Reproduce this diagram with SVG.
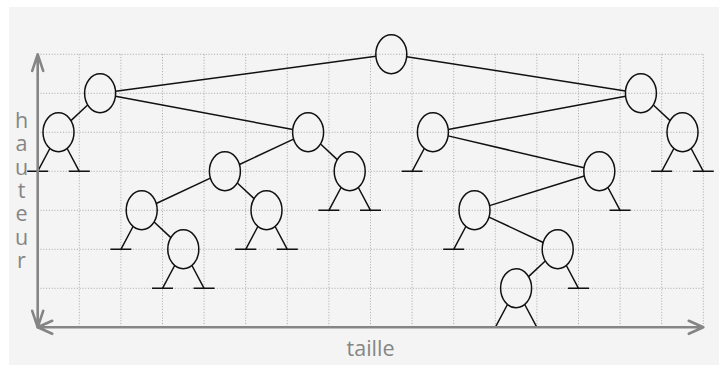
<svg xmlns="http://www.w3.org/2000/svg" xmlns:xlink="http://www.w3.org/1999/xlink" width="719" height="365" viewBox="0 0 719 365">
<style>
.grid{stroke:#a0a0a0;stroke-width:0.9;stroke-dasharray:1 1.8;fill:none}
.axis{stroke:#858585;stroke-width:2.6;fill:none;stroke-linecap:round;stroke-linejoin:round}
.edge{stroke:#111;stroke-width:1.5;fill:none}
.lbl{font-family:"Open Sans","Liberation Sans",sans-serif;font-size:21.5px;fill:#858585;text-anchor:middle}
</style>
<defs>
<path id="nl" class="edge" d="M -8.64 16.19 L -20.8 39 M -31.3 39 H -10.3"/>
<path id="nr" class="edge" d="M 8.64 16.19 L 20.8 39 M 10.3 39 H 31.3"/>
<ellipse id="el" cx="0" cy="0" rx="15.5" ry="19.5" fill="none" stroke="#111" stroke-width="1.5"/>
</defs>
<rect x="9" y="7" width="710" height="358" fill="#f4f4f4"/>
<g id="grid" class="grid">
<path d="M37.7 54.3H703.3M37.7 93.3H703.3M37.7 132.3H703.3M37.7 171.3H703.3M37.7 210.3H703.3M37.7 249.3H703.3M37.7 288.3H703.3"/>
<path d="M79.3 54.3V327.3M120.9 54.3V327.3M162.5 54.3V327.3M204.1 54.3V327.3M245.7 54.3V327.3M287.3 54.3V327.3M328.9 54.3V327.3M370.5 54.3V327.3M412.1 54.3V327.3M453.7 54.3V327.3M495.3 54.3V327.3M536.9 54.3V327.3M578.5 54.3V327.3M620.1 54.3V327.3M661.7 54.3V327.3M703.3 54.3V327.3"/>
</g>
<g id="connectors" class="edge">
<line x1="375.89" y1="56.36" x2="115.51" y2="91.24"/>
<line x1="406.68" y1="56.70" x2="625.52" y2="90.90"/>
<line x1="87.67" y1="104.95" x2="70.93" y2="120.65"/>
<line x1="115.43" y1="96.17" x2="292.77" y2="129.43"/>
<line x1="293.57" y1="139.11" x2="239.43" y2="164.49"/>
<line x1="320.53" y1="143.95" x2="337.27" y2="159.65"/>
<line x1="210.37" y1="178.11" x2="156.23" y2="203.49"/>
<line x1="237.33" y1="182.95" x2="254.07" y2="198.65"/>
<line x1="154.13" y1="221.95" x2="170.87" y2="237.65"/>
<line x1="625.57" y1="96.17" x2="448.23" y2="129.43"/>
<line x1="653.33" y1="104.95" x2="670.07" y2="120.65"/>
<line x1="448.14" y1="135.87" x2="584.06" y2="167.73"/>
<line x1="584.26" y1="176.00" x2="489.54" y2="205.60"/>
<line x1="489.03" y1="217.11" x2="543.17" y2="242.49"/>
<line x1="545.27" y1="260.95" x2="528.53" y2="276.65"/>
</g>
<g id="root" class="node" transform="translate(391.3 54.3)"><use xlink:href="#el"/></g>
<g id="n-l1" class="node" transform="translate(100.1 93.3)"><use xlink:href="#el"/></g>
<g id="n-r1" class="node" transform="translate(640.9 93.3)"><use xlink:href="#el"/></g>
<g id="n-a" class="node" transform="translate(58.5 132.3)"><use xlink:href="#el"/><use xlink:href="#nl"/><use xlink:href="#nr"/></g>
<g id="n-b" class="node" transform="translate(308.1 132.3)"><use xlink:href="#el"/></g>
<g id="n-c" class="node" transform="translate(432.9 132.3)"><use xlink:href="#el"/><use xlink:href="#nl"/></g>
<g id="n-d" class="node" transform="translate(682.5 132.3)"><use xlink:href="#el"/><use xlink:href="#nl"/><use xlink:href="#nr"/></g>
<g id="n-e" class="node" transform="translate(224.9 171.3)"><use xlink:href="#el"/></g>
<g id="n-f" class="node" transform="translate(349.7 171.3)"><use xlink:href="#el"/><use xlink:href="#nl"/><use xlink:href="#nr"/></g>
<g id="n-g" class="node" transform="translate(599.3 171.3)"><use xlink:href="#el"/><use xlink:href="#nr"/></g>
<g id="n-h" class="node" transform="translate(141.7 210.3)"><use xlink:href="#el"/><use xlink:href="#nl"/></g>
<g id="n-i" class="node" transform="translate(266.5 210.3)"><use xlink:href="#el"/><use xlink:href="#nl"/><use xlink:href="#nr"/></g>
<g id="n-j" class="node" transform="translate(474.5 210.3)"><use xlink:href="#el"/><use xlink:href="#nl"/></g>
<g id="n-k" class="node" transform="translate(183.3 249.3)"><use xlink:href="#el"/><use xlink:href="#nl"/><use xlink:href="#nr"/></g>
<g id="n-l" class="node" transform="translate(557.7 249.3)"><use xlink:href="#el"/><use xlink:href="#nr"/></g>
<g id="n-m" class="node" transform="translate(516.1 288.3)"><use xlink:href="#el"/><use xlink:href="#nl"/><use xlink:href="#nr"/></g>
<g id="axes" class="axis">
<path d="M37.7 54.3V327.3M32.2 70.8L37.7 54.3L43.2 70.8M32.2 310.8L37.7 327.3L43.2 310.8"/>
<path d="M37.7 327.3H703.3M52.2 320.8L37.7 327.3L52.2 333.8M688.8 320.8L703.3 327.3L688.8 333.8"/>
</g>
<g id="labels" class="lbl">
<text x="21.5" y="127.7">h<tspan x="21.5" dy="23.4">a</tspan><tspan x="21.5" dy="23.4">u</tspan><tspan x="21.5" dy="23.4">t</tspan><tspan x="21.5" dy="23.4">e</tspan><tspan x="21.5" dy="23.4">u</tspan><tspan x="21.5" dy="23.4">r</tspan></text>
<text x="370.5" y="356.3">taille</text>
</g>
</svg>
